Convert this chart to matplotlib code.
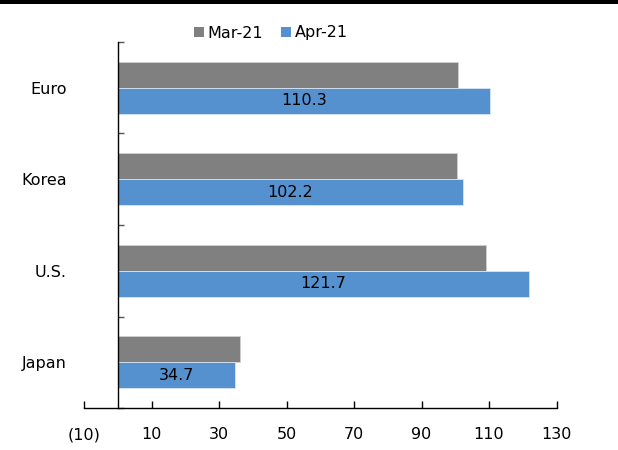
import matplotlib
matplotlib.use("Agg")
import matplotlib.pyplot as plt
from matplotlib.patches import Rectangle, Patch
import numpy as np

categories = ["Euro", "Korea", "U.S.", "Japan"]
mar21 = [100.9, 100.6, 109.0, 36.2]
apr21 = [110.3, 102.2, 121.7, 34.7]
series_names = ["Mar-21", "Apr-21"]
xticks = [-10, 10, 30, 50, 70, 90, 110, 130]
xtick_labels = ["(10)", "10", "30", "50", "70", "90", "110", "130"]

grey = "#808080"
blue = "#5591cf"
fs = 11.5

plt.rcParams["font.family"] = ["DejaVu Sans"]
fig = plt.figure(figsize=(6.18, 4.5), dpi=100)
ax_h = (408 - 42) / 450
ax = fig.add_axes([84.3 / 618, 1 - 408 / 450, (556.5 - 84.3) / 618, ax_h])

y = np.arange(len(categories))
h = 0.284
ax.barh(y - h / 2, mar21, height=h, color=grey, edgecolor="#d0d0d0", linewidth=0.6)
ax.barh(y + h / 2, apr21, height=h, color=blue, edgecolor="#d8e6f4", linewidth=0.6)

for yi, v in zip(y, apr21):
    ax.text(v / 2, yi + h / 2, f"{v:.1f}", ha="center", va="center", fontsize=fs, color="black")

ax.set_xlim(-10, 130)
ax.set_ylim(len(categories) - 0.5, -0.5)

ax.spines["top"].set_visible(False)
ax.spines["right"].set_visible(False)
ax.spines["left"].set_position(("data", 0))
for s in ("left", "bottom"):
    ax.spines[s].set_color("black")
    ax.spines[s].set_linewidth(1.0)

# value ticks point inward; labels share one baseline below the axis
ax.set_xticks(xticks)
ax.tick_params(axis="x", direction="in", length=5, width=1, labelbottom=False)
baseline = -(31 / 450) / ax_h
for xv, lab in zip(xticks, xtick_labels):
    ax.text(xv, baseline, lab, transform=ax.get_xaxis_transform(), ha="center",
            va="baseline", fontsize=fs, clip_on=False)

# category boundaries carry the ticks; labels sit at category centres
ax.set_yticks(np.arange(-0.5, len(categories) + 0.5, 1.0))
ax.set_yticklabels([])
ax.tick_params(axis="y", which="major", direction="in", length=4, width=1, color="#555555")
ax.set_yticks(y, minor=True)
ax.tick_params(axis="y", which="minor", length=0, pad=37)
ax.set_yticklabels(categories, minor=True, fontsize=fs)

handles = [Patch(facecolor=grey, edgecolor="none"), Patch(facecolor=blue, edgecolor="none")]
fig.legend(handles, series_names, loc="center", bbox_to_anchor=(271 / 618, 1 - 33 / 450),
           ncol=2, frameon=False, fontsize=fs, handlelength=0.6, handleheight=0.6,
           handletextpad=0.25, columnspacing=1.1, borderaxespad=0)

fig.patches.append(Rectangle((0, 1 - 4 / 450), 1, 4 / 450, transform=fig.transFigure,
                             facecolor="black", edgecolor="none"))

fig.savefig("out.png", dpi=100)
